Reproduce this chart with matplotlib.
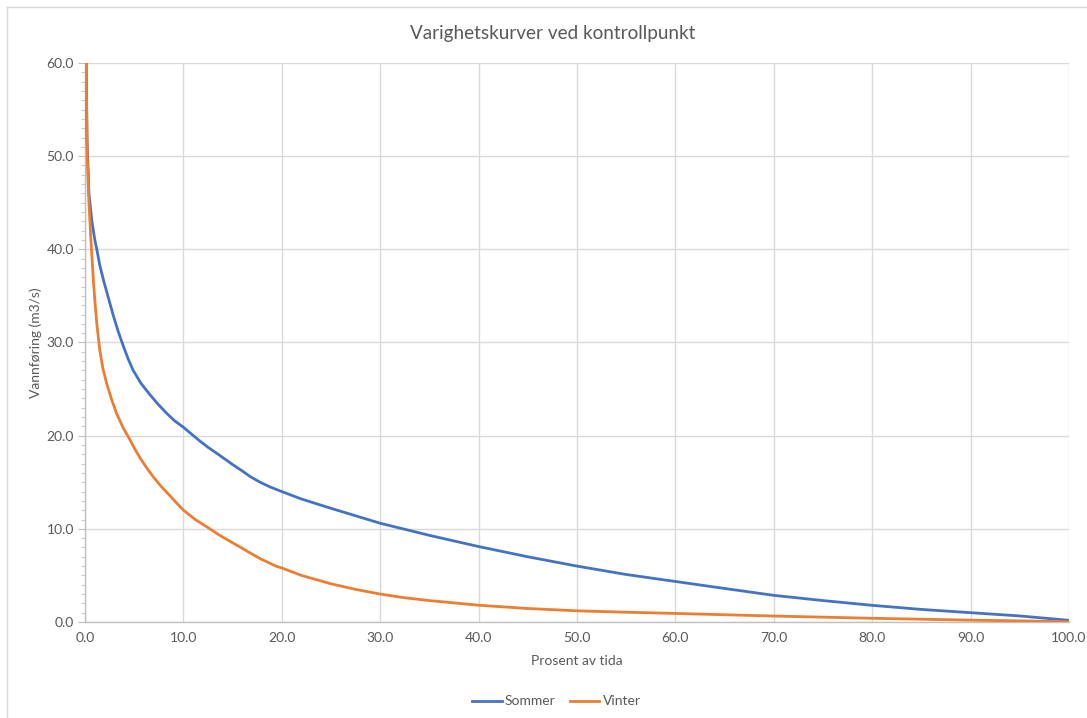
import numpy as np
import matplotlib
matplotlib.use("Agg")
import matplotlib.pyplot as plt
from matplotlib.lines import Line2D
from matplotlib.ticker import MultipleLocator, FormatStrFormatter

plt.rcParams['font.family'] = ['Lato', 'DejaVu Sans']

# Prosent av tida (x) and vannføring (m3/s)
sommer_x = [0, 0.2, 0.4, 0.7, 1.0, 1.2, 1.5, 1.9, 2.4, 2.9, 3.4, 3.9, 4.4, 4.9, 5.7,
            6.6, 7.4, 8.3, 9.1, 10, 11.7, 12.5, 13.4, 14.2, 15, 16, 16.8, 17.8, 18.8,
            19.4, 20, 22, 25, 27.5, 30, 35, 40, 45, 50, 55, 60, 65, 70, 75, 80, 85,
            90, 95, 100]
sommer_y = [75, 52, 46, 43, 41, 40, 38.3, 36.6, 34.7, 32.8, 31.1, 29.6, 28.2, 27.0, 25.6,
            24.4, 23.4, 22.4, 21.6, 20.9, 19.4, 18.75, 18.1, 17.5, 16.9, 16.2, 15.6, 15.0,
            14.5, 14.25, 14.0, 13.2, 12.2, 11.4, 10.6, 9.3, 8.1, 7.0, 6.0, 5.1, 4.35,
            3.6, 2.86, 2.3, 1.79, 1.35, 1.0, 0.65, 0.18]

vinter_x = [0, 0.1, 0.23, 0.4, 0.6, 0.85, 1.0, 1.2, 1.5, 1.8, 2.2, 2.7, 3.2, 3.9, 4.6,
            5.1, 5.6, 6.3, 7, 7.7, 8.5, 9.2, 10, 11.2, 12.4, 13.7, 15, 16, 16.8, 17.8,
            18.8, 19.4, 20, 22, 23.5, 25, 27.5, 30, 32.5, 35, 37.5, 40, 45, 50, 55, 60,
            65, 70, 75, 80, 85, 90, 95, 100]
vinter_y = [80, 60, 50, 45, 41, 36.7, 34.5, 32, 29.2, 27.3, 25.6, 23.9, 22.4, 20.8, 19.5,
            18.5, 17.6, 16.5, 15.5, 14.6, 13.7, 12.9, 12.0, 11.0, 10.2, 9.3, 8.5, 7.9,
            7.4, 6.8, 6.3, 6.0, 5.8, 5.0, 4.55, 4.1, 3.5, 3.0, 2.6, 2.3, 2.05, 1.8, 1.45,
            1.2, 1.05, 0.92, 0.78, 0.64, 0.52, 0.4, 0.3, 0.2, 0.12, 0.03]

txt = '#595959'
grid = '#D9D9D9'

fig = plt.figure(figsize=(10.87, 7.18), dpi=100)
ax = fig.add_axes([0.0782, 0.1337, 0.9052, 0.7786])

ax.plot(sommer_x, sommer_y, color='#4472C4', lw=2.0, label='Sommer', zorder=3,
        solid_joinstyle='round')
ax.plot(vinter_x, vinter_y, color='#ED7D31', lw=2.0, label='Vinter', zorder=3,
        solid_joinstyle='round')

ax.set_xlim(0, 100)
ax.set_ylim(0, 60)
ax.xaxis.set_major_locator(MultipleLocator(10))
ax.yaxis.set_major_locator(MultipleLocator(10))
ax.yaxis.set_minor_locator(MultipleLocator(1))
ax.xaxis.set_major_formatter(FormatStrFormatter('%.1f'))
ax.yaxis.set_major_formatter(FormatStrFormatter('%.1f'))
ax.grid(True, which='major', color=grid, lw=1.0, zorder=0)

for s in ['top', 'right']:
    ax.spines[s].set_visible(False)
for s in ['left', 'bottom']:
    ax.spines[s].set_color('#BFBFBF')
    ax.spines[s].set_linewidth(1.0)

ax.tick_params(axis='x', which='both', length=0, colors=txt, labelsize=10, pad=7)
ax.tick_params(axis='y', which='major', length=5, color='#BFBFBF', labelcolor=txt,
               labelsize=10, pad=3)
ax.tick_params(axis='y', which='minor', length=3, color='#BFBFBF')

ax.set_xlabel('Prosent av tida', color=txt, fontsize=10, labelpad=8)
ax.set_ylabel('Vannføring (m3/s)', color=txt, fontsize=10, labelpad=3)
fig.text(553 / 1087, 0.954, 'Varighetskurver ved kontrollpunkt', ha='center',
         va='center', color=txt, fontsize=13.6)

ax.legend(loc='center', bbox_to_anchor=(0.479, -0.142), ncol=2, frameon=False,
          fontsize=10, labelcolor=txt, handlelength=2.15, handletextpad=0.25,
          columnspacing=1.0)

# chart border (top and left)
fig.add_artist(Line2D([7 / 1087, 1], [1 - 7 / 718, 1 - 7 / 718], color='#D9D9D9', lw=1))
fig.add_artist(Line2D([7 / 1087, 7 / 1087], [0, 1 - 7 / 718], color='#D9D9D9', lw=1))

fig.savefig('out.png', dpi=100)
